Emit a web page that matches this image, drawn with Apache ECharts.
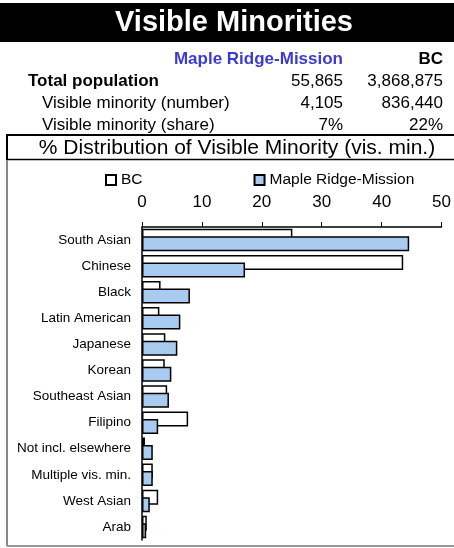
<!DOCTYPE html>
<html><head><meta charset="utf-8">
<script src="https://cdn.jsdelivr.net/npm/echarts@6/dist/echarts.min.js"></script>
<style>html,body{margin:0;padding:0;background:#fff}#c{width:454px;height:548px}</style>
</head><body><div id="c"></div>
<script>
const categories = ['South Asian','Chinese','Black','Latin American','Japanese','Korean','Southeast Asian','Filipino','Not incl. elsewhere','Multiple vis. min.','West Asian','Arab'];
const bcValues = [25.1,43.6,3.1,2.9,3.9,3.8,4.2,7.7,0.5,1.8,2.7,0.8];
const mrmValues = [44.6,17.2,8.0,6.4,5.9,4.9,4.5,2.7,1.8,1.8,1.3,0.7];
const xTicks = [0,10,20,30,40,50];
const regionName = 'Maple Ridge-Mission';
const provName = 'BC';
const tableRows = [
  ['Total population','55,865','3,868,875'],
  ['Visible minority (number)','4,105','836,440'],
  ['Visible minority (share)','7%','22%']
];
const FONT = '"Liberation Sans", Arial, sans-serif';
const chart = echarts.init(document.getElementById('c'), null, {renderer:'canvas'});
const rowY = [81, 103, 125];
const graphics = [
  {type:'rect', shape:{x:0,y:3,width:454,height:39}, style:{fill:'#000'}},
  {type:'text', x:234, y:23, style:{text:'Visible Minorities', fill:'#fff', font:'bold 29px '+FONT, textAlign:'center', textVerticalAlign:'middle'}},
  {type:'text', x:343, y:59, style:{text:regionName, fill:'#3b3bd0', font:'bold 17px '+FONT, textAlign:'right', textVerticalAlign:'middle'}},
  {type:'text', x:443, y:59, style:{text:provName, fill:'#000', font:'bold 17px '+FONT, textAlign:'right', textVerticalAlign:'middle'}},
  {type:'line', shape:{x1:7,y1:135,x2:454,y2:135}, style:{stroke:'#000', lineWidth:2}},
  {type:'line', shape:{x1:7,y1:134,x2:7,y2:160}, style:{stroke:'#000', lineWidth:2}},
  {type:'line', shape:{x1:7,y1:159.5,x2:454,y2:159.5}, style:{stroke:'#000', lineWidth:1.5}},
  {type:'text', x:237, y:148, style:{text:'% Distribution of Visible Minority (vis. min.)', fill:'#000', font:'21px '+FONT, textAlign:'center', textVerticalAlign:'middle'}},
  {type:'line', shape:{x1:7,y1:160,x2:7,y2:546}, style:{stroke:'#888', lineWidth:2}},
  {type:'line', shape:{x1:7,y1:546,x2:454,y2:546}, style:{stroke:'#999', lineWidth:2}}
];
tableRows.forEach((r,i)=>{
  graphics.push({type:'text', x: i===0?28:42, y:rowY[i], style:{text:r[0], fill:'#000', font:(i===0?'bold ':'')+'17px '+FONT, textAlign:'left', textVerticalAlign:'middle'}});
  graphics.push({type:'text', x:343, y:rowY[i], style:{text:r[1], fill:'#000', font:'17px '+FONT, textAlign:'right', textVerticalAlign:'middle'}});
  graphics.push({type:'text', x:443, y:rowY[i], style:{text:r[2], fill:'#000', font:'17px '+FONT, textAlign:'right', textVerticalAlign:'middle'}});
});
chart.setOption({
  animation:false,
  textStyle:{fontFamily:FONT},
  graphic:graphics,
  legend:{
    data:[provName, regionName], left:100, top:167, itemWidth:10, itemHeight:10, itemGap:111,
    icon:'rect', textStyle:{fontSize:15.5, color:'#000', fontFamily:FONT}
  },
  grid:{left:142, top:227, right:11, bottom:8, containLabel:false},
  xAxis:{
    type:'value', position:'top', min:0, max:50, interval:10,
    axisLine:{show:true, lineStyle:{color:'#000', width:1.5}},
    axisTick:{show:true, length:5, lineStyle:{color:'#000'}},
    axisLabel:{fontSize:17, color:'#000', margin:16, fontFamily:FONT, formatter:v=>xTicks.includes(v)?String(v):''},
    splitLine:{show:false}
  },
  yAxis:{
    type:'category', data:categories, inverse:true,
    axisLine:{show:true, lineStyle:{color:'#000', width:1.5}},
    axisTick:{show:false},
    axisLabel:{fontSize:13.5, color:'#000', margin:11, fontFamily:FONT}
  },
  series:[
    {name:provName, type:'bar', data:bcValues, barWidth:15, barGap:'-50%',
     itemStyle:{color:'#fff', borderColor:'#000', borderWidth:1.5}},
    {name:regionName, type:'bar', data:mrmValues, barWidth:15, barGap:'-50%',
     itemStyle:{color:'#a9cbf0', borderColor:'#000', borderWidth:1.5}}
  ]
});
</script></body></html>
